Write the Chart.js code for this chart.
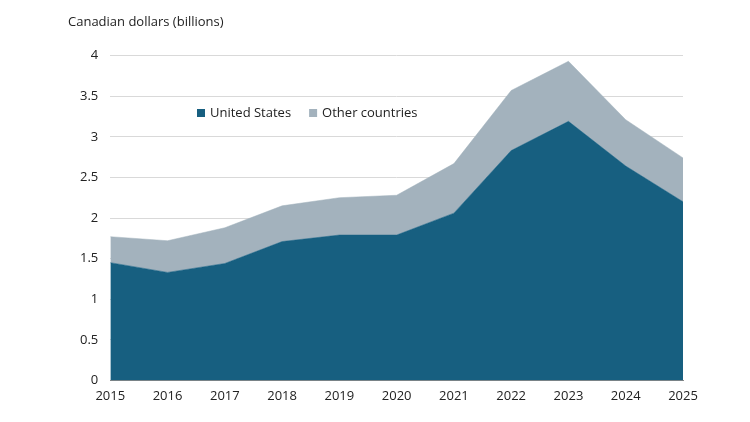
<!DOCTYPE html>
<html><head><meta charset="utf-8">
<script src="https://cdn.jsdelivr.net/npm/chart.js@4"></script>
<style>html,body{margin:0;padding:0;background:#fff}#w{width:750px;height:422px}</style>
</head><body><div id="w"><canvas id="c"></canvas></div>
<script>
const years = ['2015','2016','2017','2018','2019','2020','2021','2022','2023','2024','2025'];
const unitedStates = [1.45,1.33,1.44,1.71,1.79,1.79,2.06,2.83,3.19,2.64,2.20];
const otherCountries = [0.32,0.39,0.44,0.44,0.46,0.49,0.61,0.74,0.74,0.57,0.54];
const font = {family:'"Open Sans", "Liberation Sans", sans-serif', size:13};
Chart.defaults.color = '#222';
const inLegend = {
  id:'inLegend',
  afterDraw(chart){
    const ctx = chart.ctx, y = 113;
    ctx.save();
    ctx.font = '13px "Open Sans", "Liberation Sans", sans-serif';
    ctx.textBaseline = 'middle';
    let x = 197;
    chart.data.datasets.forEach(ds => {
      ctx.fillStyle = ds.backgroundColor;
      ctx.fillRect(x, y-4, 8, 8);
      ctx.fillStyle = '#222';
      ctx.fillText(ds.label, x+13, y);
      x += 13 + ctx.measureText(ds.label).width + 18;
    });
    ctx.restore();
  }
};
new Chart(document.getElementById('c'), {
  type:'line',
  data:{labels:years,datasets:[
    {label:'United States',data:unitedStates,fill:'origin',backgroundColor:'#175f80',borderColor:'#175f80',borderWidth:0.5,pointRadius:0,tension:0},
    {label:'Other countries',data:otherCountries,fill:'-1',backgroundColor:'#a3b2bd',borderColor:'#a3b2bd',borderWidth:0.5,pointRadius:0,tension:0}
  ]},
  plugins:[inLegend],
  options:{
    responsive:true,maintainAspectRatio:false,animation:false,
    layout:{padding:{left:68,right:67,top:10,bottom:10}},
    plugins:{
      title:{display:true,text:'Canadian dollars (billions)',align:'start',font:{...font,weight:'normal'},padding:{top:4,bottom:26}},
      legend:{display:false},
      tooltip:{enabled:false}
    },
    scales:{
      x:{stacked:true,offset:false,grid:{display:false,drawTicks:false},border:{color:'#888'},ticks:{font:font,padding:8,maxRotation:0}},
      y:{stacked:true,min:0,max:4,ticks:{stepSize:0.5,font:font,padding:12,callback:v=>String(v)},grid:{color:'#d9d9d9',drawTicks:false},border:{display:false}}
    }
  }
});
</script></body></html>
